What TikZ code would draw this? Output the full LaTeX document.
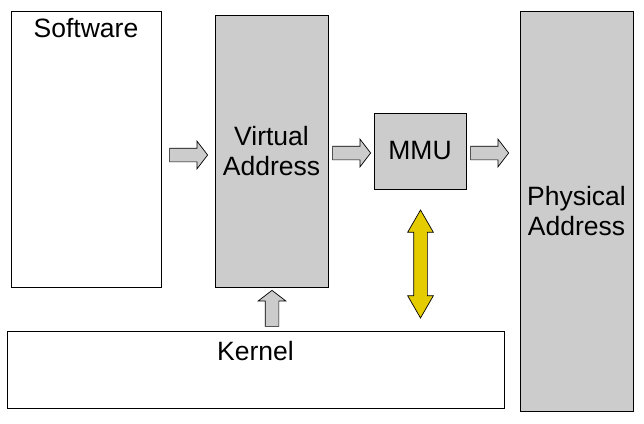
\documentclass[tikz,border=0pt]{standalone}
\usepackage{fontspec}
\setmainfont{Liberation Sans}
\usetikzlibrary{shapes.arrows}

\definecolor{boxgray}{RGB}{204,204,204}
\definecolor{mapyellow}{RGB}{229,204,0}

\tikzset{
  box/.style={draw,line width=0.9pt,inner sep=0pt,align=center,
    font=\fontsize{26.5}{30}\selectfont},
  graybox/.style={box,fill=boxgray},
  toplabel/.style={anchor=north,yshift=-4pt,font=\fontsize{26.5}{30}\selectfont},
  blockarrow/.style={single arrow,draw,fill=boxgray,line width=0.7pt,
    inner xsep=0pt,inner ysep=6.5pt,minimum height=38pt,
    single arrow head extend=7pt,single arrow tip angle=105},
}

\begin{document}
\begin{tikzpicture}[x=1pt,y=-1pt]

\useasboundingbox (0,0) rectangle (644,423);

% boxes
\node [box,minimum width=150pt,minimum height=276pt,
  label={[toplabel]north:Software}] (soft) at (86,149) {};
\node [graybox,minimum width=113pt,minimum height=272pt] (virt) at (271.5,151) {Virtual\\Address};
\node [graybox,minimum width=92pt,minimum height=76pt] (mmu) at (420,151) {MMU};
\node [graybox,minimum width=113pt,minimum height=400pt] (phys) at (576.5,211) {Physical\\Address};
\node [box,minimum width=497pt,minimum height=77pt,
  label={[toplabel,yshift=-3pt]north:Kernel}] (kern) at (255.5,369.5) {};

% block arrows
\node [blockarrow] (arrsoft) at (186,155) {};
\node [blockarrow] (arrvirt) at (349,153) {};
\node [blockarrow] (arrmmu) at (487,153) {};
\node [blockarrow,minimum height=36pt,rotate=90] (arrkern) at (272,311) {};
\node [double arrow,draw,fill=mapyellow,line width=0.7pt,
  inner xsep=0pt,inner ysep=6.5pt,minimum height=108pt,
  double arrow head extend=6pt,double arrow tip angle=60,rotate=90] (arrmap) at (420.5,264) {};

\end{tikzpicture}
\end{document}
